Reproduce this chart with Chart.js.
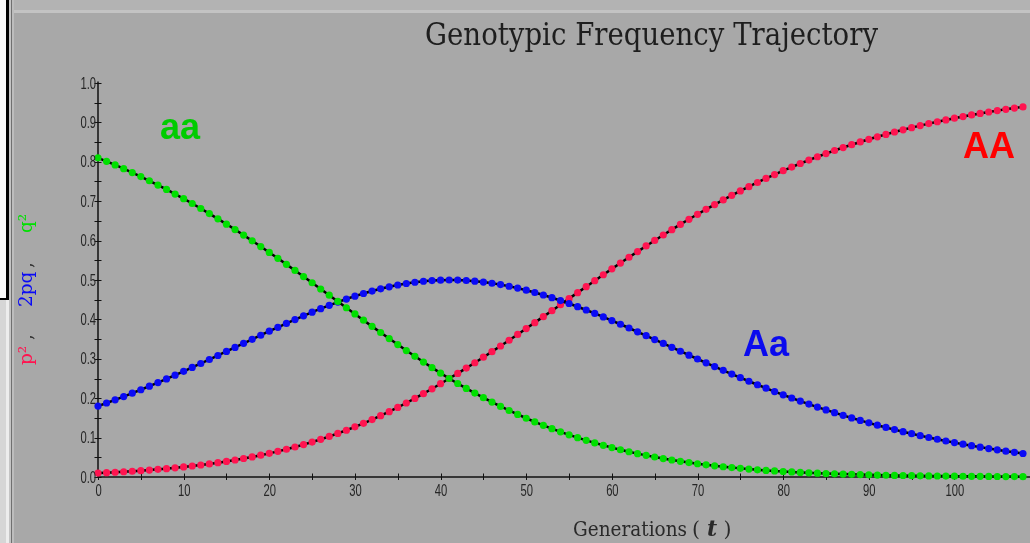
<!DOCTYPE html>
<html>
<head>
<meta charset="utf-8">
<script src="https://cdn.jsdelivr.net/npm/chart.js@4.4.0/dist/chart.umd.min.js"></script>
<style>
html,body{margin:0;padding:0;background:#a8a8a8;overflow:hidden;}
#wrap{width:1030px;height:543px;position:relative;}
canvas{display:block;}
</style>
</head>
<body>
<div id="wrap"><canvas id="c" width="1030" height="543"></canvas></div>
<script>
// ---------- data ----------
const generations = [0,1,2,3,4,5,6,7,8,9,10,11,12,13,14,15,16,17,18,19,20,21,22,23,24,25,26,27,28,29,30,31,32,33,34,35,36,37,38,39,40,41,42,43,44,45,46,47,48,49,50,51,52,53,54,55,56,57,58,59,60,61,62,63,64,65,66,67,68,69,70,71,72,73,74,75,76,77,78,79,80,81,82,83,84,85,86,87,88,89,90,91,92,93,94,95,96,97,98,99,100,101,102,103,104,105,106,107,108];

const freqAA = [0.0100,0.0110,0.0121,0.0133,0.0146,0.0161,0.0177,0.0194,0.0212,0.0233,0.0255,0.0279,0.0304,0.0332,0.0363,0.0395,0.0431,0.0469,0.0510,0.0553,0.0600,0.0651,0.0704,0.0761,0.0822,0.0887,0.0956,0.1029,0.1106,0.1187,0.1273,0.1363,0.1457,0.1556,0.1659,0.1766,0.1878,0.1994,0.2115,0.2239,0.2368,0.2500,
0.2630,0.2764,0.2900,0.3040,0.3181,0.3325,0.3471,0.3619,0.3768,0.3918,0.4070,0.4222,0.4374,0.4527,0.4679,0.4831,0.4983,0.5133,0.5283,0.5430,0.5577,0.5721,0.5864,0.6004,0.6142,0.6278,0.6411,0.6541,0.6668,0.6793,0.6914,0.7033,0.7148,0.7260,0.7369,0.7475,0.7578,0.7677,0.7774,0.7867,0.7957,0.8044,0.8128,0.8209,0.8287,0.8362,0.8434,0.8504,0.8571,0.8635,0.8696,0.8756,0.8812,0.8867,0.8919,0.8969,0.9017,0.9063,0.9107,0.9149,0.9189,0.9227,0.9264,0.9299,0.9332,0.9364,0.9394];

const freqAa = [0.1800,0.1878,0.1959,0.2042,0.2127,0.2215,0.2305,0.2396,0.2490,0.2585,0.2682,0.2781,0.2881,0.2982,0.3084,0.3186,0.3289,0.3392,0.3495,0.3598,0.3700,0.3800,0.3899,0.3996,0.4091,0.4183,0.4272,0.4357,0.4439,0.4517,0.4590,0.4657,0.4720,0.4777,0.4828,0.4873,0.4911,0.4943,0.4968,0.4986,0.4996,0.5000,
0.4997,0.4987,0.4970,0.4947,0.4918,0.4883,0.4841,0.4794,0.4741,0.4683,0.4619,0.4551,0.4479,0.4403,0.4322,0.4239,0.4152,0.4063,0.3971,0.3877,0.3782,0.3685,0.3587,0.3489,0.3390,0.3291,0.3192,0.3093,0.2995,0.2898,0.2802,0.2707,0.2613,0.2521,0.2430,0.2341,0.2254,0.2169,0.2086,0.2005,0.1926,0.1850,0.1775,0.1703,0.1633,0.1565,0.1499,0.1436,0.1374,0.1315,0.1258,0.1203,0.1150,0.1099,0.1050,0.1003,0.0958,0.0914,0.0873,0.0833,0.0794,0.0758,0.0722,0.0689,0.0656,0.0626,0.0596];

const freqaa = [0.8100,0.8011,0.7920,0.7825,0.7726,0.7624,0.7519,0.7410,0.7298,0.7182,0.7063,0.6941,0.6815,0.6686,0.6553,0.6418,0.6280,0.6139,0.5995,0.5849,0.5700,0.5550,0.5397,0.5243,0.5087,0.4930,0.4772,0.4614,0.4455,0.4296,0.4138,0.3980,0.3823,0.3667,0.3513,0.3361,0.3210,0.3063,0.2917,0.2775,0.2636,0.2500,
0.2373,0.2249,0.2129,0.2013,0.1901,0.1792,0.1688,0.1587,0.1491,0.1399,0.1311,0.1227,0.1147,0.1070,0.0998,0.0930,0.0865,0.0804,0.0746,0.0692,0.0641,0.0593,0.0549,0.0507,0.0468,0.0431,0.0397,0.0366,0.0336,0.0309,0.0284,0.0260,0.0239,0.0219,0.0200,0.0183,0.0168,0.0153,0.0140,0.0128,0.0117,0.0106,0.0097,0.0088,0.0080,0.0073,0.0067,0.0061,0.0055,0.0050,0.0045,0.0041,0.0038,0.0034,0.0031,0.0028,0.0025,0.0023,0.0021,0.0019,0.0017,0.0016,0.0014,0.0013,0.0012,0.0010,0.0009];

const xTickValues = [0,10,20,30,40,50,60,70,80,90,100];
const xTickLabels = ['0','10','20','30','40','50','60','70','80','90','100'];
const yTickValues = [0,0.1,0.2,0.3,0.4,0.5,0.6,0.7,0.8,0.9,1.0];
const yTickLabels = ['0.0','0.1','0.2','0.3','0.4','0.5','0.6','0.7','0.8','0.9','1.0'];

const titleText = 'Genotypic Frequency Trajectory';
const xTitleText = 'Generations';
const seriesNames = ['AA','Aa','aa'];

// ---------- styling ----------
const COL_AA = '#ff1450', COL_Aa = '#0a0af5', COL_aa = '#00e000';
const SERIF = '"DejaVu Serif", "Liberation Serif", serif';

function pts(vals){ return vals.map((v,i)=>({x:generations[i], y:v})); }

function rotText(ctx, text, x, yStart, font, color){
  ctx.save();
  ctx.font = font; ctx.fillStyle = color;
  ctx.translate(x, yStart); ctx.rotate(-Math.PI/2);
  ctx.textBaseline = 'alphabetic'; ctx.textAlign = 'left';
  ctx.fillText(text,0,0);
  ctx.restore();
}

function fitText(ctx, text, x, y, width, font, color){
  ctx.save();
  ctx.font = font; ctx.fillStyle = color; ctx.textBaseline='alphabetic'; ctx.textAlign='left';
  const w = ctx.measureText(text).width;
  ctx.translate(x,y); ctx.scale(width/w,1);
  ctx.fillText(text,0,0);
  ctx.restore();
}

const decor = {
  id:'decor',
  beforeDraw(chart){
    const ctx = chart.ctx;
    ctx.save();
    ctx.fillStyle='#a8a8a8'; ctx.fillRect(0,0,1030,543);
    ctx.fillStyle='#b3b3b3'; ctx.fillRect(0,0,1030,10);
    ctx.fillStyle='#c3c3c3'; ctx.fillRect(0,10,1030,3);
    ctx.fillStyle='#fafafa'; ctx.fillRect(0,0,6,298);
    ctx.fillStyle='#000000'; ctx.fillRect(6,0,3,300); ctx.fillRect(0,298,9,2);
    ctx.fillStyle='#d6d6d6'; ctx.fillRect(0,300,6,243);
    ctx.fillStyle='#ededed'; ctx.fillRect(6,300,3,243);
    ctx.fillStyle='#c4c4c4'; ctx.fillRect(9,0,2,543);
    ctx.fillStyle='#707070'; ctx.fillRect(11,0,1,543);
    ctx.fillStyle='#bdbdbd'; ctx.fillRect(12,0,2,543);
    ctx.restore();
  },
  beforeDatasetsDraw(chart){
    const ctx = chart.ctx, xs = chart.scales.x, ys = chart.scales.y;
    const x0 = xs.getPixelForValue(0), y0 = ys.getPixelForValue(0);
    ctx.save();
    ctx.strokeStyle='#111'; ctx.lineWidth=1.5;
    ctx.beginPath();
    ctx.moveTo(x0, ys.getPixelForValue(1)-1.5); ctx.lineTo(x0, y0);
    ctx.lineTo(chart.width, y0);
    ctx.stroke();
    ctx.lineWidth=1;
    ctx.beginPath();
    for(let v=0; v<=1.0001; v+=0.05){
      const y = Math.round(ys.getPixelForValue(v))+0.5;
      ctx.moveTo(x0-3.5,y); ctx.lineTo(x0+3.5,y);
    }
    for(let v=0; v<=xs.max; v+=5){
      const x = Math.round(xs.getPixelForValue(v))+0.5;
      ctx.moveTo(x,y0-3.5); ctx.lineTo(x,y0+3);
    }
    ctx.stroke();
    ctx.restore();
  },
  afterDraw(chart){
    const ctx = chart.ctx, xs = chart.scales.x, ys = chart.scales.y;
    const x0 = xs.getPixelForValue(0), y0 = ys.getPixelForValue(0);
    ctx.save();
    // tick labels
    ctx.fillStyle='#262626';
    ctx.font='16.5px "Liberation Sans", Arial, sans-serif';
    yTickValues.forEach((v,i)=>{
      const y = ys.getPixelForValue(v);
      ctx.save(); ctx.translate(x0-2, y+1); ctx.scale(0.68,1);
      ctx.textAlign='right'; ctx.textBaseline='middle';
      ctx.fillText(yTickLabels[i],0,0); ctx.restore();
    });
    xTickValues.forEach((v,i)=>{
      const x = xs.getPixelForValue(v);
      ctx.save(); ctx.translate(x+0.5, y0+14.5); ctx.scale(0.68,1);
      ctx.textAlign='center'; ctx.textBaseline='middle';
      ctx.fillText(xTickLabels[i],0,0); ctx.restore();
    });
    // title
    fitText(ctx, titleText, 425, 44.5, 453, '31px ' + SERIF, '#1e1e1e');
    // x axis title
    fitText(ctx, xTitleText, 573, 536, 114, '20.5px ' + SERIF, '#2a2a2a');
    ctx.fillStyle='#2a2a2a';
    ctx.font='20.5px ' + SERIF; ctx.textBaseline='alphabetic'; ctx.textAlign='left';
    ctx.fillText('(', 692, 536);
    ctx.fillText(')', 723.5, 536);
    ctx.font='italic bold 22px ' + SERIF;
    ctx.fillText('t', 707, 536);
    // y axis title (rotated, multicoloured)
    const yf = '18.5px ' + SERIF;
    rotText(ctx, 'p\u00B2', 32, 365, yf, COL_AA);
    rotText(ctx, ',', 32, 340, yf, '#303030');
    rotText(ctx, '2pq', 32, 307, yf, COL_Aa);
    rotText(ctx, ',', 32, 268, yf, '#303030');
    rotText(ctx, 'q\u00B2', 32, 233, yf, COL_aa);
    // curve labels
    ctx.font='bold 36px "Liberation Sans", Arial, sans-serif';
    ctx.textAlign='left'; ctx.textBaseline='alphabetic';
    ctx.fillStyle='#00cc00'; ctx.fillText(seriesNames[2], 160, 139);
    ctx.fillStyle='#ff0000'; ctx.fillText(seriesNames[0], 963, 157.5);
    ctx.fillStyle='#0a0aee'; ctx.fillText(seriesNames[1], 743, 355.5);
    ctx.restore();
  }
};

function ds(label, vals, color, order){
  return {
    label, data: pts(vals), order,
    borderColor:'#000000', borderWidth:2.5,
    pointRadius:3.6, pointHoverRadius:3.6, pointBorderWidth:0,
    pointBackgroundColor:color, pointBorderColor:color,
    tension:0, fill:false, clip:false
  };
}

new Chart(document.getElementById('c'), {
  type:'line',
  data:{
    datasets:[
      ds('aa', freqaa, COL_aa, 1),
      ds('Aa', freqAa, COL_Aa, 2),
      ds('AA', freqAA, COL_AA, 3)
    ]
  },
  plugins:[decor],
  options:{
    responsive:false, animation:false, devicePixelRatio:1,
    events:[],
    layout:{padding:{top:83,left:0,right:0,bottom:0}},
    plugins:{legend:{display:false}, tooltip:{enabled:false}, title:{display:false}},
    scales:{
      x:{type:'linear', min:0, max:108.4,
         grid:{display:false}, border:{display:false},
         ticks:{display:false, stepSize:10, includeBounds:false},
         afterFit(s){ s.height = 66; }},
      y:{type:'linear', min:0, max:1,
         grid:{display:false}, border:{display:false},
         ticks:{display:false, stepSize:0.1},
         afterFit(s){ s.width = 98; }}
    }
  }
});
</script>
</body>
</html>
